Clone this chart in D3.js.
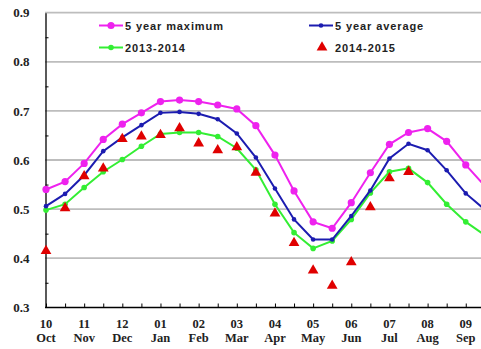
<!DOCTYPE html>
<html><head><meta charset="utf-8">
<script src="https://cdnjs.cloudflare.com/ajax/libs/d3/7.8.5/d3.min.js"></script>
<style>html,body{margin:0;padding:0;background:#fff;overflow:hidden}</style>
</head><body>
<script>
const monthNums = ["10","11","12","01","02","03","04","05","06","07","08","09"];
const monthNames = ["Oct","Nov","Dec","Jan","Feb","Mar","Apr","May","Jun","Jul","Aug","Sep"];
const yTicks = [0.3,0.4,0.5,0.6,0.7,0.8,0.9];
// half-month points, index 0 = start of Oct
const max5 = [0.540,0.556,0.593,0.642,0.673,0.696,0.719,0.722,0.719,0.712,0.704,0.670,0.610,0.537,0.474,0.461,0.513,0.574,0.632,0.656,0.664,0.638,0.590,0.547];
const avg5 = [0.506,0.531,0.569,0.618,0.646,0.671,0.696,0.698,0.694,0.683,0.654,0.605,0.542,0.479,0.438,0.438,0.486,0.538,0.603,0.633,0.620,0.579,0.532,0.499];
const y1314 = [0.498,0.510,0.544,0.576,0.601,0.628,0.653,0.656,0.656,0.648,0.624,0.580,0.510,0.452,0.420,0.435,0.479,0.533,0.576,0.583,0.554,0.510,0.474,0.447];
const y1415 = [0.415,0.502,0.567,0.583,0.643,0.648,0.651,0.665,0.634,0.620,0.626,0.574,0.491,0.431,0.375,0.344,0.392,0.504,0.563,0.576];
const legendLabels = ["5 year maximum","5 year average","2013-2014","2014-2015"];

const W=481,H=349;
const svg=d3.select("body").append("svg").attr("width",W).attr("height",H);
const x=d3.scaleLinear().domain([0,24]).range([46,46+24*19.08]);
const y=d3.scaleLinear().domain([0.3,0.9]).range([307.3,12.7]);

// gridlines
svg.append("g").selectAll("line").data(yTicks.slice(1)).join("line")
  .attr("x1",45).attr("x2",W).attr("y1",d=>y(d)).attr("y2",d=>y(d))
  .attr("stroke","#bdbdbd").attr("stroke-width",1.8);

// y axis
const ya=svg.append("g").attr("transform","translate(45.5,0)")
  .call(d3.axisLeft(y).tickValues(yTicks).tickSize(0).tickPadding(16).tickFormat(d3.format(".1f")));
ya.attr("font-family",null).attr("font-size",null);
ya.select(".domain").attr("stroke","#000").attr("stroke-width",1.3);
ya.selectAll("text").style("font-family","'Liberation Serif', serif").style("font-weight","bold").style("font-size","13px").attr("fill","#222");
const yminor=svg.append("g").attr("transform","translate(45.5,0)")
  .call(d3.axisLeft(y).tickValues([0.35,0.45,0.55,0.65,0.75,0.85]).tickSize(-3).tickFormat(""));
yminor.select(".domain").remove();
yminor.selectAll("line").attr("stroke","#000");

// x axis
const xa=svg.append("g").attr("transform","translate(0,307.5)")
  .call(d3.axisBottom(x).tickValues(d3.range(0,25)).tickSize(-4).tickFormat(""));
xa.select(".domain").attr("stroke","#000").attr("stroke-width",1.3).attr("d","M45,0H"+W);
xa.selectAll("line").attr("stroke","#000");
const lab=svg.append("g").style("font-family","'Liberation Serif', serif").style("font-weight","bold").style("font-size","12.5px").attr("fill","#222").attr("text-anchor","middle");
lab.selectAll("text.n").data(monthNums).join("text").attr("class","n")
  .attr("x",(d,i)=>x(i*2)).attr("y",323.5).attr("dominant-baseline","central").text(d=>d);
lab.selectAll("text.m").data(monthNames).join("text").attr("class","m")
  .attr("x",(d,i)=>x(i*2)).attr("y",337.5).attr("dominant-baseline","central").text(d=>d);

const line=d3.line().x((d,i)=>x(i)).y(d=>y(d));
function series(data,color,r,w){
  svg.append("path").datum(data).attr("d",line).attr("fill","none").attr("stroke",color).attr("stroke-width",w);
  svg.append("g").selectAll("circle").data(data).join("circle")
    .attr("cx",(d,i)=>x(i)).attr("cy",d=>y(d)).attr("r",r).attr("fill",color);
}
series(y1314,"#33ee33",2.8,2);
series(avg5,"#1c1cb0",2.3,2);
series(max5,"#ee22ee",3.6,2);
const tri=d3.symbol().type(d3.symbolTriangle).size(50);
svg.append("g").selectAll("path").data(y1415).join("path")
  .attr("d",tri).attr("transform",(d,i)=>`translate(${x(i)},${y(d)})`).attr("fill","#e00000");

// legend
const lg=svg.append("g").style("font-family","'Liberation Sans', sans-serif").style("font-weight","bold").style("font-size","11px").attr("fill","#222");
const legItems=[
  {t:legendLabels[0],c:"#ee22ee",lx:99,ly:25.5,kind:"c",r:3.6},
  {t:legendLabels[1],c:"#1c1cb0",lx:309,ly:25.5,kind:"c",r:2.3},
  {t:legendLabels[2],c:"#33ee33",lx:99,ly:47.5,kind:"c",r:2.8},
  {t:legendLabels[3],c:"#e00000",lx:309,ly:47.5,kind:"t"}
];
legItems.forEach(it=>{
  if(it.kind==="c"){
    lg.append("line").attr("x1",it.lx).attr("x2",it.lx+24).attr("y1",it.ly).attr("y2",it.ly).attr("stroke",it.c).attr("stroke-width",2);
    lg.append("circle").attr("cx",it.lx+12).attr("cy",it.ly).attr("r",it.r).attr("fill",it.c);
  } else {
    lg.append("path").attr("d",tri).attr("transform",`translate(${it.lx+13},${it.ly})`).attr("fill",it.c);
  }
  lg.append("text").attr("x",it.lx+26).attr("y",it.ly).attr("dominant-baseline","central").attr("letter-spacing",0.9).text(it.t);
});
</script>
</body></html>
